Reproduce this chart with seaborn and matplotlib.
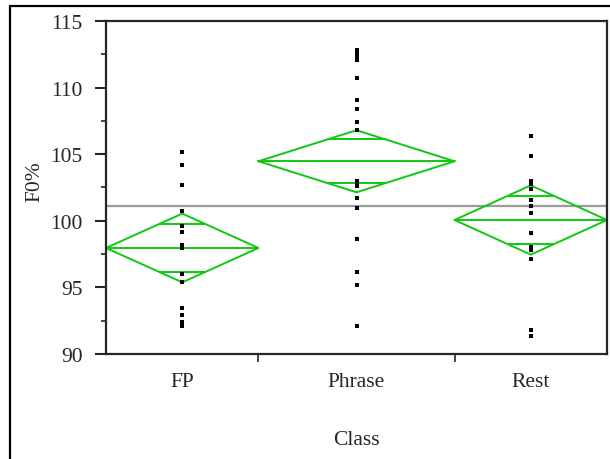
import numpy as np
import pandas as pd
import matplotlib
matplotlib.use("Agg")
import matplotlib.pyplot as plt
from matplotlib.lines import Line2D
import seaborn as sns

# F0% observations per class
classes = ["FP", "Phrase", "Rest"]
fp_values = [105.19, 104.21, 102.71, 100.76, 99.61, 99.16, 98.2, 97.95,
             96.0, 95.41, 93.48, 92.95, 92.4, 92.1]
phrase_values = [112.8, 112.6, 112.4, 112.1, 110.72, 109.07, 108.39, 107.44,
                 106.79, 103.0, 102.8, 102.65, 101.71, 100.96, 98.63, 96.16,
                 95.18, 92.13]
rest_values = [106.35, 104.89, 103.0, 102.8, 102.39, 101.59, 101.09, 100.61,
               99.11, 98.0, 97.8, 97.16, 91.83, 91.38]

# means diamonds: group mean and 95% CI half-width
group_means = [97.96, 104.47, 100.06]
ci_half = [2.58, 2.33, 2.60]
grand_mean = 101.13

groups = [fp_values, phrase_values, rest_values]

sns.set_style("ticks")
plt.rcParams["font.family"] = ["Liberation Serif", "DejaVu Serif"]
plt.rcParams["font.size"] = 15.5

fig = plt.figure(figsize=(6.1, 4.6), dpi=100)
ax = fig.add_axes([106 / 610, 1 - 355 / 460, 501 / 610, 333 / 460])

# class widths proportional to number of observations
counts = np.array([len(g) for g in groups])
edges = np.concatenate([[0], np.cumsum(counts)])
centers = (edges[:-1] + edges[1:]) / 2

df = pd.DataFrame({
    "Class": np.repeat(classes, counts),
    "pos": np.repeat(centers, counts),
    "F0%": np.concatenate(groups),
})

green = "#10c810"
ax.axhline(grand_mean, color="#9a9a9a", lw=1.6, zorder=1)

for x0, x1, m, c in zip(edges[:-1], edges[1:], group_means, ci_half):
    xc = (x0 + x1) / 2
    ax.plot([x0, xc, x1, xc, x0], [m, m + c, m, m - c, m],
            color=green, lw=1.4, zorder=2, solid_joinstyle="miter")
    ax.plot([x0, x1], [m, m], color=green, lw=1.4, zorder=2)
    half = (1 - 1 / np.sqrt(2)) * (x1 - x0) / 2
    for off in (c / np.sqrt(2), -c / np.sqrt(2)):
        ax.plot([xc - half, xc + half], [m + off, m + off],
                color=green, lw=1.4, zorder=2)

sns.scatterplot(data=df, x="pos", y="F0%", ax=ax, marker="s", s=9,
                color="black", linewidth=0, zorder=3, legend=False)

ax.set_xlim(edges[0], edges[-1])
ax.set_ylim(90, 115)

# x: ticks at class boundaries, labels at class centres
ax.set_xticks(edges[1:-1])
ax.set_xticklabels([])
ax.set_xticks(centers, minor=True)
ax.set_xticklabels(classes, minor=True)
ax.tick_params(axis="x", which="major", length=6, width=1.2, direction="out")
ax.tick_params(axis="x", which="minor", length=0, pad=13)

ax.set_yticks(np.arange(90, 116, 5))
ax.set_yticks(np.arange(92.5, 115, 5), minor=True)
ax.tick_params(axis="y", which="major", length=8, width=1.5, pad=9)
ax.tick_params(axis="y", which="minor", length=3.5, width=1.2)

for s in ax.spines.values():
    s.set_linewidth(1.6)
    s.set_visible(True)

ax.set_xlabel("Class", labelpad=28)
ax.set_ylabel("F0%")
ax.yaxis.set_label_coords(-0.123, 0.52)

# outer frame
fig.add_artist(Line2D([10 / 610, 10 / 610], [0, 1 - 7 / 460], color="black",
                      lw=1.6, transform=fig.transFigure))
fig.add_artist(Line2D([10 / 610, 1], [1 - 7 / 460, 1 - 7 / 460], color="black",
                      lw=1.6, transform=fig.transFigure))

fig.savefig("out.png", dpi=100)
